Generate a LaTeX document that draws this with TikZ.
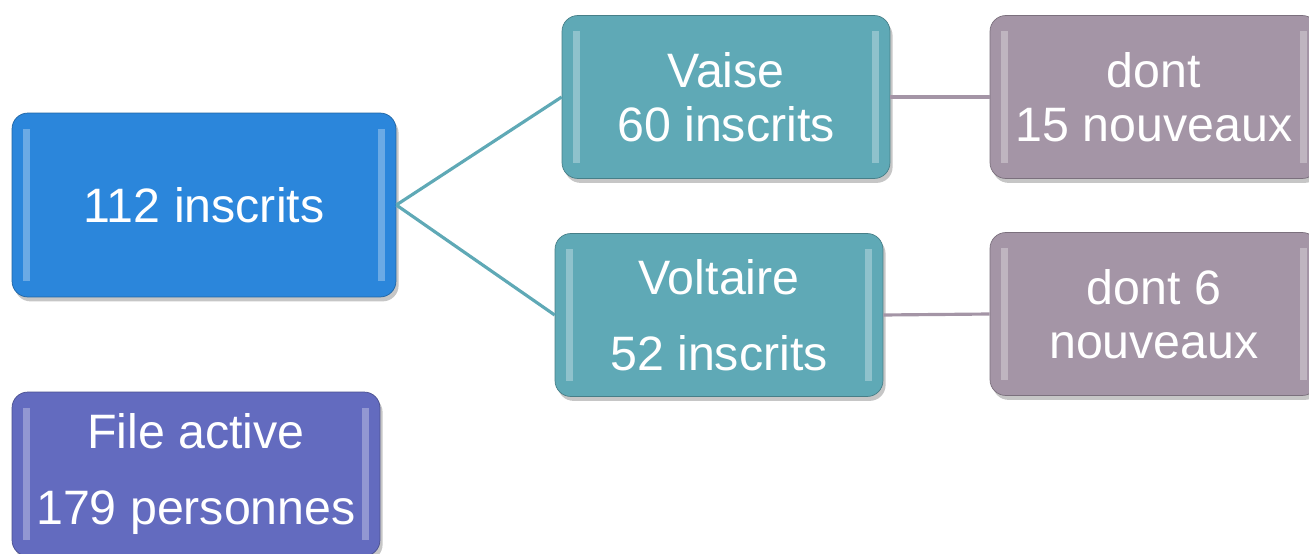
\documentclass[tikz,border=0pt]{standalone}
\usepackage{fontspec}
\setmainfont{Liberation Sans}
\usetikzlibrary{calc,positioning,shadows}

\definecolor{cBlue}{HTML}{2B86DB}
\definecolor{cTeal}{HTML}{5FA9B6}
\definecolor{cMauve}{HTML}{A495A6}
\definecolor{cIndigo}{HTML}{636BBF}

\newcommand{\tileFont}{\fontsize{27.5}{31}\selectfont}

\tikzset{
    tile/.style={rectangle, rounded corners=9pt, fill=#1, draw=#1!75!black,
        text=white, font=\tileFont, align=center, inner sep=2pt,
        minimum width=6.56cm, minimum height=3.26cm,
        drop shadow={shadow xshift=1.5pt, shadow yshift=-2.5pt, opacity=0.45},
        path picture={
            \fill[white,opacity=0.3,sharp corners] ($(path picture bounding box.north west)+(6pt,-9pt)$) rectangle ($(path picture bounding box.south west)+(10pt,9pt)$);
            \fill[white,opacity=0.3,sharp corners] ($(path picture bounding box.north east)+(-10pt,-9pt)$) rectangle ($(path picture bounding box.south east)+(-6pt,9pt)$);
        }},
    link/.style={draw=#1, line width=1.8pt},
}

\begin{document}
\begin{tikzpicture}[x=0.02cm, y=-0.02cm]

\useasboundingbox (0,0) rectangle (1309,554);

\node[tile=cBlue, minimum width=7.68cm, minimum height=3.68cm] (nTotal) at (204,205) {112 inscrits};

\node[tile=cTeal] (nVaise) at (726,97) {Vaise\\60 inscrits};
\node[tile=cTeal] (nVoltaire) at (719,315) {Voltaire\\[12pt]52 inscrits};

\node[tile=cMauve] (nNewVaise) at (1154,97) {dont\\15 nouveaux};
\node[tile=cMauve] (nNewVoltaire) at (1154,314) {dont 6\\nouveaux};

\node[tile=cIndigo, minimum width=7.36cm, minimum height=3.28cm] (nFileActive) at (196,474) {File active\\[12pt]179 personnes};

\draw[link=cTeal] (nTotal.east) -- (nVaise.west);
\draw[link=cTeal] (nTotal.east) -- (nVoltaire.west);
\draw[link=cMauve] (nVaise.east) -- (nNewVaise.west);
\draw[link=cMauve] (nVoltaire.east) -- (nNewVoltaire.west);

\end{tikzpicture}
\end{document}
